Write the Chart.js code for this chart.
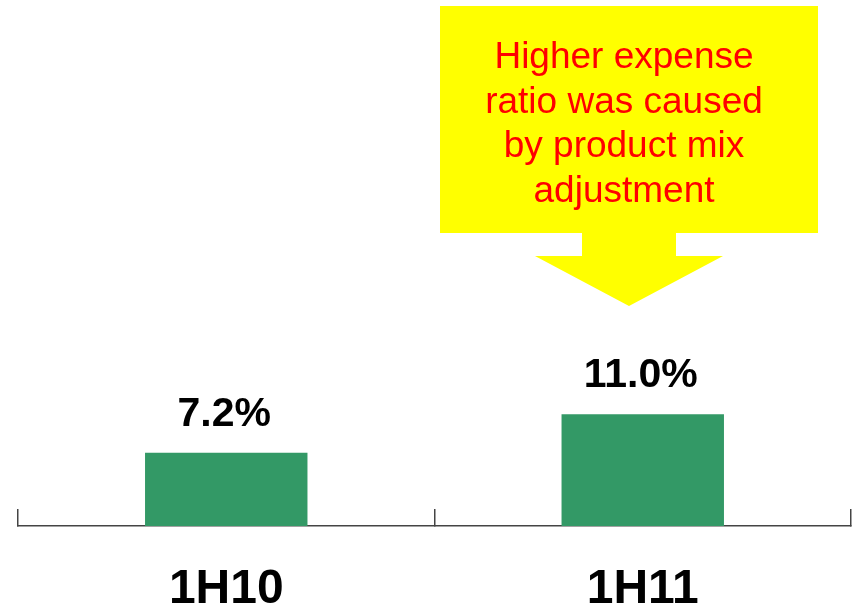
<!DOCTYPE html>
<html>
<head>
<meta charset="utf-8">
<script src="https://cdn.jsdelivr.net/npm/chart.js@4/dist/chart.umd.min.js"></script>
<style>
  html, body { margin: 0; padding: 0; background: #fff; }
  #wrap { width: 856px; height: 615px; position: relative; }
</style>
</head>
<body>
<div id="wrap"><canvas id="chart"></canvas></div>
<script>
var periods = ['1H10', '1H11'];
var expenseRatio = [7.2, 11.0];
var noteLines = ['Higher expense', 'ratio was caused', 'by product mix', 'adjustment'];

var FONT = '"Liberation Sans", Arial, sans-serif';

// value labels above bars
var barLabels = {
    id: 'barLabels',
    afterDatasetsDraw: function(chart) {
        var ctx = chart.ctx;
        var meta = chart.getDatasetMeta(0);
        ctx.save();
        ctx.font = 'bold 41px ' + FONT;
        ctx.fillStyle = '#000';
        ctx.textAlign = 'center';
        ctx.textBaseline = 'alphabetic';
        meta.data.forEach(function(bar, i) {
            ctx.fillText(expenseRatio[i].toFixed(1) + '%', bar.x - 2, bar.y - 27);
        });
        ctx.restore();
    }
};

// yellow callout arrow with note
var callout = {
    id: 'callout',
    afterDraw: function(chart) {
        var ctx = chart.ctx;
        ctx.save();
        ctx.fillStyle = '#ffff00';
        ctx.beginPath();
        ctx.moveTo(440, 6);
        ctx.lineTo(818, 6);
        ctx.lineTo(818, 233);
        ctx.lineTo(676, 233);
        ctx.lineTo(676, 256);
        ctx.lineTo(723, 256);
        ctx.lineTo(629, 306);
        ctx.lineTo(535, 256);
        ctx.lineTo(582, 256);
        ctx.lineTo(582, 233);
        ctx.lineTo(440, 233);
        ctx.closePath();
        ctx.fill();
        ctx.font = '37px ' + FONT;
        ctx.fillStyle = '#ff0000';
        ctx.textAlign = 'center';
        ctx.textBaseline = 'alphabetic';
        noteLines.forEach(function(t, i) {
            ctx.fillText(t, 624, 68 + i * 44.7);
        });
        ctx.restore();
    }
};

var ctx = document.getElementById('chart').getContext('2d');
var myChart = new Chart(ctx, {
    type: 'bar',
    data: {
        labels: periods,
        datasets: [{
            data: expenseRatio,
            backgroundColor: '#339966',
            borderWidth: 0,
            barPercentage: 0.39,
            categoryPercentage: 1
        }]
    },
    options: {
        responsive: true,
        maintainAspectRatio: false,
        animation: false,
        events: [],
        layout: { padding: { left: 18, right: 5, top: 17.5, bottom: -56 } },
        plugins: {
            legend: { display: false },
            tooltip: { enabled: false }
        },
        scales: {
            y: { display: false, min: 0, max: 50 },
            x: {
                grid: {
                    offset: true,
                    drawOnChartArea: false,
                    tickLength: -17, /* ticks point up */
                    color: '#444',
                    lineWidth: 1.5
                },
                border: { color: '#444', width: 1.5 },
                ticks: {
                    color: '#000',
                    padding: 57,
                    font: { family: FONT, size: 48, weight: 'bold', lineHeight: 1 }
                }
            }
        }
    },
    plugins: [barLabels, callout]
});
</script>
</body>
</html>
